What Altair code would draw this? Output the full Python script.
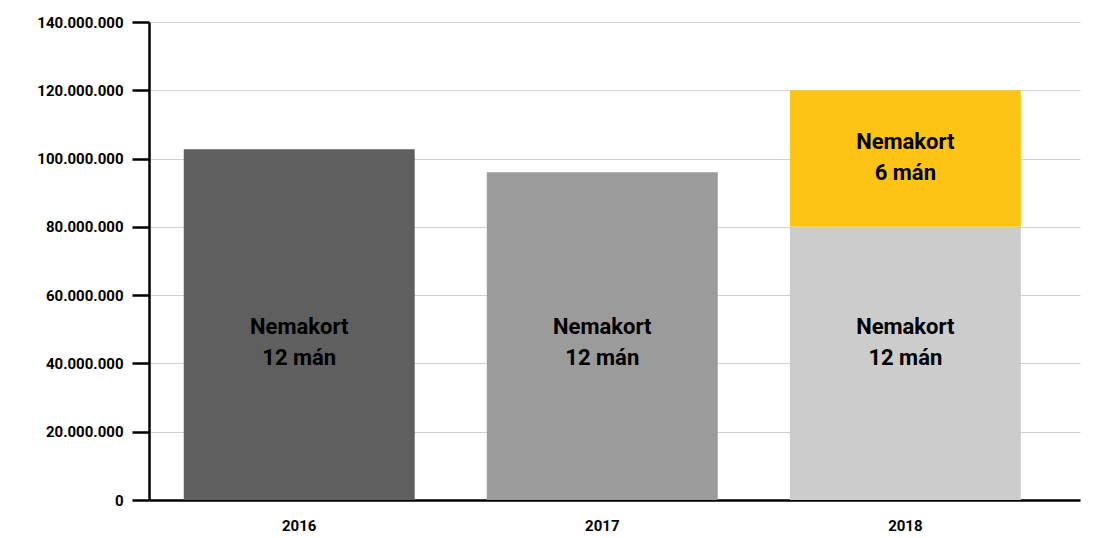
import altair as alt
import pandas as pd

years = ["2016", "2017", "2018", "2018"]
segment = ["a", "b", "c", "d"]
starts = [0, 0, 0, 80000000]
ends = [102700000, 96000000, 80000000, 120000000]
colors = ["#5f5f5f", "#9b9b9b", "#cccccc", "#fec415"]
labels = ["Nemakort\n12 mán", "Nemakort\n12 mán", "Nemakort\n12 mán", "Nemakort\n6 mán"]
label_pos = [50600000, 50600000, 50600000, 105000000]
ytick_values = [0, 20000000, 40000000, 60000000, 80000000, 100000000, 120000000, 140000000]

df = pd.DataFrame({"year": years, "seg": segment, "start": starts, "end": ends,
                   "label": labels, "lpos": label_pos})

xscale = alt.Scale(paddingInner=0.238, paddingOuter=0.155, align=0.37)
yscale = alt.Scale(domain=[0, 140000000])

xaxis = alt.Axis(labelAngle=0, ticks=False, domainColor="#000", domainWidth=2.5,
                 labelPadding=18, labelFont="Roboto", labelFontSize=15,
                 labelFontWeight="bold", labelColor="#000")
yaxis = alt.Axis(values=ytick_values, format=",d",
                 grid=True, gridColor="#d0d0d0", gridWidth=1,
                 tickSize=17, tickWidth=2.5, tickColor="#000",
                 domainColor="#000", domainWidth=2.5, labelPadding=9,
                 labelFont="Roboto", labelFontSize=15, labelFontWeight="bold",
                 labelColor="#000")

bars = alt.Chart(df).mark_bar().encode(
    x=alt.X("year:N", scale=xscale, title=None, axis=xaxis),
    y=alt.Y("start:Q", scale=yscale, title=None, axis=yaxis),
    y2="end:Q",
    color=alt.Color("seg:N", scale=alt.Scale(domain=segment, range=colors), legend=None),
)

text = alt.Chart(df).mark_text(font="Roboto", fontSize=22, fontWeight="bold", color="#000",
                               lineBreak="\n", lineHeight=31, baseline="middle").encode(
    x=alt.X("year:N", scale=xscale, title=None, axis=xaxis),
    y=alt.Y("lpos:Q", scale=yscale, title=None, axis=yaxis),
    text="label:N",
)

chart = (bars + text).properties(
    width=931, height=478,
    autosize=alt.AutoSizeParams(type="none"),
    padding={"left": 141, "top": 14, "right": 5, "bottom": 40},
).configure(
    view={"stroke": None},
    locale={"number": {"decimal": ",", "thousands": ".", "grouping": [3], "currency": ["", " €"]}},
)

chart.save("out.html", embed_options={"renderer": "svg", "actions": False})
